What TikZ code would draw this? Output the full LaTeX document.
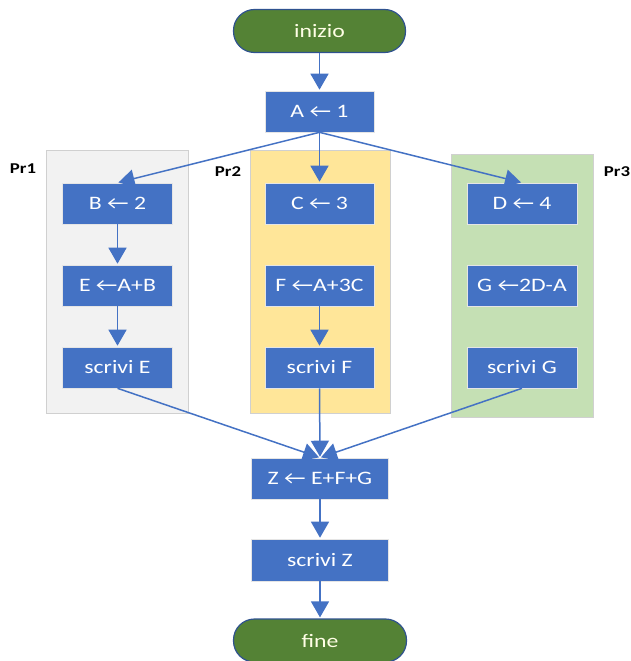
\documentclass[tikz,border=0pt]{standalone}
\usepackage{fontspec}
\setmainfont{Carlito}
\usetikzlibrary{arrows.meta}
\definecolor{boxblue}{HTML}{4472C4}
\definecolor{termgreen}{HTML}{548235}
\definecolor{termline}{HTML}{2F528F}
\definecolor{lanegray}{HTML}{F2F2F2}
\definecolor{laneyellow}{HTML}{FFE699}
\definecolor{lanegreen}{HTML}{C5E0B4}
\definecolor{laneline}{HTML}{D0D0D0}
% text in this chart is set slightly wide
\newcommand{\widetxt}[1]{\scalebox{1.25}[1]{#1}}
\tikzset{
  proc/.style={rectangle, fill=boxblue, draw=white!80!gray, line width=0.6pt,
    minimum width=110pt, minimum height=41pt, inner sep=0pt, text=white,
    font=\fontsize{19}{22}\selectfont},
  term/.style={rectangle, rounded corners=21pt, fill=termgreen, draw=termline,
    line width=1.2pt, minimum width=172pt, minimum height=43pt, inner sep=0pt,
    text=white!90!yellow, font=\fontsize{19}{22}\selectfont},
  lane/.style={draw=laneline, line width=0.8pt},
  lanelabel/.style={font=\bfseries\fontsize{15}{17}\selectfont, text=black},
  flow/.style={draw=boxblue, line width=1.5pt, shorten >=1pt,
    -{Triangle[width=18pt,length=16pt]}}
}
\begin{document}
\begin{tikzpicture}[x=1pt,y=-1pt]
\useasboundingbox (0,0) rectangle (630,661);

% parallel lanes
\filldraw[lane, fill=lanegray]   (46,150)  rectangle (188,413);
\filldraw[lane, fill=laneyellow] (250,150) rectangle (390,413);
\filldraw[lane, fill=lanegreen]  (451,154) rectangle (593,417);
\node[lanelabel] (p1) at (23,169)  {\widetxt{Pr1}};
\node[lanelabel] (p2) at (228,172) {\widetxt{Pr2}};
\node[lanelabel] (p3) at (617,172) {\widetxt{Pr3}};

% nodes
\node[term] (start) at (319.5,31) {\widetxt{inizio}};
\node[proc, minimum width=109pt] (A) at (319.5,111.5) {\widetxt{A ← 1}};

\node[proc] (B)  at (117.5,203.5) {\widetxt{B ← 2}};
\node[proc] (E)  at (117.5,285.5) {\widetxt{E ←A+B}};
\node[proc] (sE) at (117.5,367.5) {\widetxt{scrivi E}};

\node[proc, minimum width=109pt] (C)  at (319.5,203.5) {\widetxt{C ← 3}};
\node[proc, minimum width=109pt] (F)  at (319.5,285.5) {\widetxt{F ←A+3C}};
\node[proc, minimum width=109pt] (sF) at (319.5,367.5) {\widetxt{scrivi F}};

\node[proc] (D)  at (522,203.5) {\widetxt{D ← 4}};
\node[proc] (G)  at (522,285.5) {\widetxt{G ←2D-A}};
\node[proc] (sG) at (522,367.5) {\widetxt{scrivi G}};

\node[proc, minimum width=137pt] (Z)  at (320,478.5) {\widetxt{Z ← E+F+G}};
\node[proc, minimum width=137pt, minimum height=42pt] (sZ) at (320,560) {\widetxt{scrivi Z}};
\node[term, minimum width=173pt] (end) at (320,640.5) {\widetxt{fine}};

% connectors
\draw[flow] (start) -- (A);
\draw[flow] (A.south) -- (B.north);
\draw[flow] (A.south) -- (C.north);
\draw[flow] (A.south) -- (D.north);
\draw[flow] (B) -- (E);
\draw[flow] (E) -- (sE);
\draw[flow] (F) -- (sF);
\draw[flow] (sE.south) -- (Z.north);
\draw[flow] (sF.south) -- (Z.north);
\draw[flow] (sG.south) -- (Z.north);
\draw[flow] (Z) -- (sZ);
\draw[flow] (sZ) -- (end);
\end{tikzpicture}
\end{document}
